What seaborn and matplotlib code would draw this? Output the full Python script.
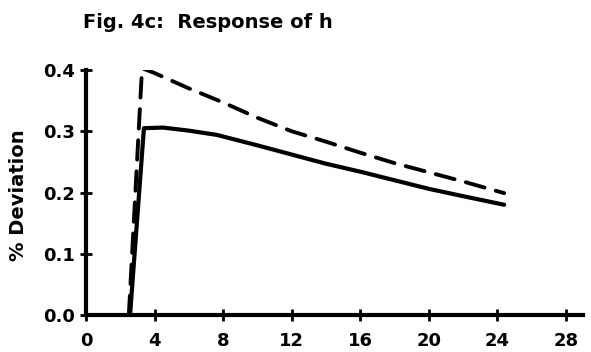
import matplotlib
matplotlib.use("Agg")
import matplotlib.pyplot as plt
import seaborn as sns
import pandas as pd

# data
x_solid = [2.57, 3.38, 4.5, 6, 7.64, 10, 12, 14, 16, 18, 20, 22, 24.4]
y_solid = [0.0, 0.305, 0.306, 0.301, 0.294, 0.277, 0.262, 0.247, 0.234, 0.220, 0.206, 0.194, 0.180]
x_dash = [2.5, 3.27, 4, 6, 8, 10, 12, 14, 16, 18, 20, 22, 24.4]
y_dash = [0.0, 0.403, 0.395, 0.370, 0.347, 0.322, 0.300, 0.283, 0.265, 0.248, 0.233, 0.218, 0.199]
x_ticks = [0, 4, 8, 12, 16, 20, 24, 28]
y_ticks = [0.0, 0.1, 0.2, 0.3, 0.4]
y_ticklabels = ["0.0", "0.1", "0.2", "0.3", "0.4"]
title = "Fig. 4c:  Response of h"
ylabel = "% Deviation"

sns.set_style("ticks", rc={"axes.edgecolor": "black", "text.color": "black",
                           "xtick.color": "black", "ytick.color": "black",
                           "axes.labelcolor": "black"})
plt.rcParams['font.family'] = ['DejaVu Sans']
plt.rcParams['font.weight'] = 'bold'

fig = plt.figure(figsize=(5.91, 3.52), dpi=100)
ax = fig.add_axes([86 / 591, 1 - 315 / 352, (583 - 86) / 591, (315 - 70) / 352])

df_s = pd.DataFrame({"x": x_solid, "y": y_solid})
df_d = pd.DataFrame({"x": x_dash, "y": y_dash})
sns.lineplot(data=df_d, x="x", y="y", ax=ax, color="black", lw=2.8,
             linestyle=(0, (5.0, 3.0)), sort=False, dash_capstyle='round')
sns.lineplot(data=df_s, x="x", y="y", ax=ax, color="black", lw=3.0, sort=False)

ax.set_xlim(0, 29.0)
ax.set_ylim(0, 0.4)
ax.set_xticks(x_ticks)
ax.set_xticklabels([str(t) for t in x_ticks], fontsize=13, fontweight='bold', color='black')
ax.set_yticks(y_ticks)
ax.set_yticklabels(y_ticklabels, fontsize=13, fontweight='bold', color='black')
ax.set_xlabel("")
ax.set_ylabel("")
fig.text(19 / 591, 1 - 195 / 352, ylabel, fontsize=14, fontweight='bold',
         rotation=90, va='center', ha='center', color='black')
ax.tick_params(direction='inout', length=8, width=2, colors='black')
ax.tick_params(axis='x', pad=8)
ax.tick_params(axis='y', pad=4)
for s in ['top', 'right']:
    ax.spines[s].set_visible(False)
for s in ['left', 'bottom']:
    ax.spines[s].set_linewidth(3.0)
    ax.spines[s].set_color('black')
fig.text(83 / 591, 1 - 23 / 352, title, fontsize=14, fontweight='bold',
         va='center', ha='left', color='black')

fig.savefig("out.png", dpi=100)
